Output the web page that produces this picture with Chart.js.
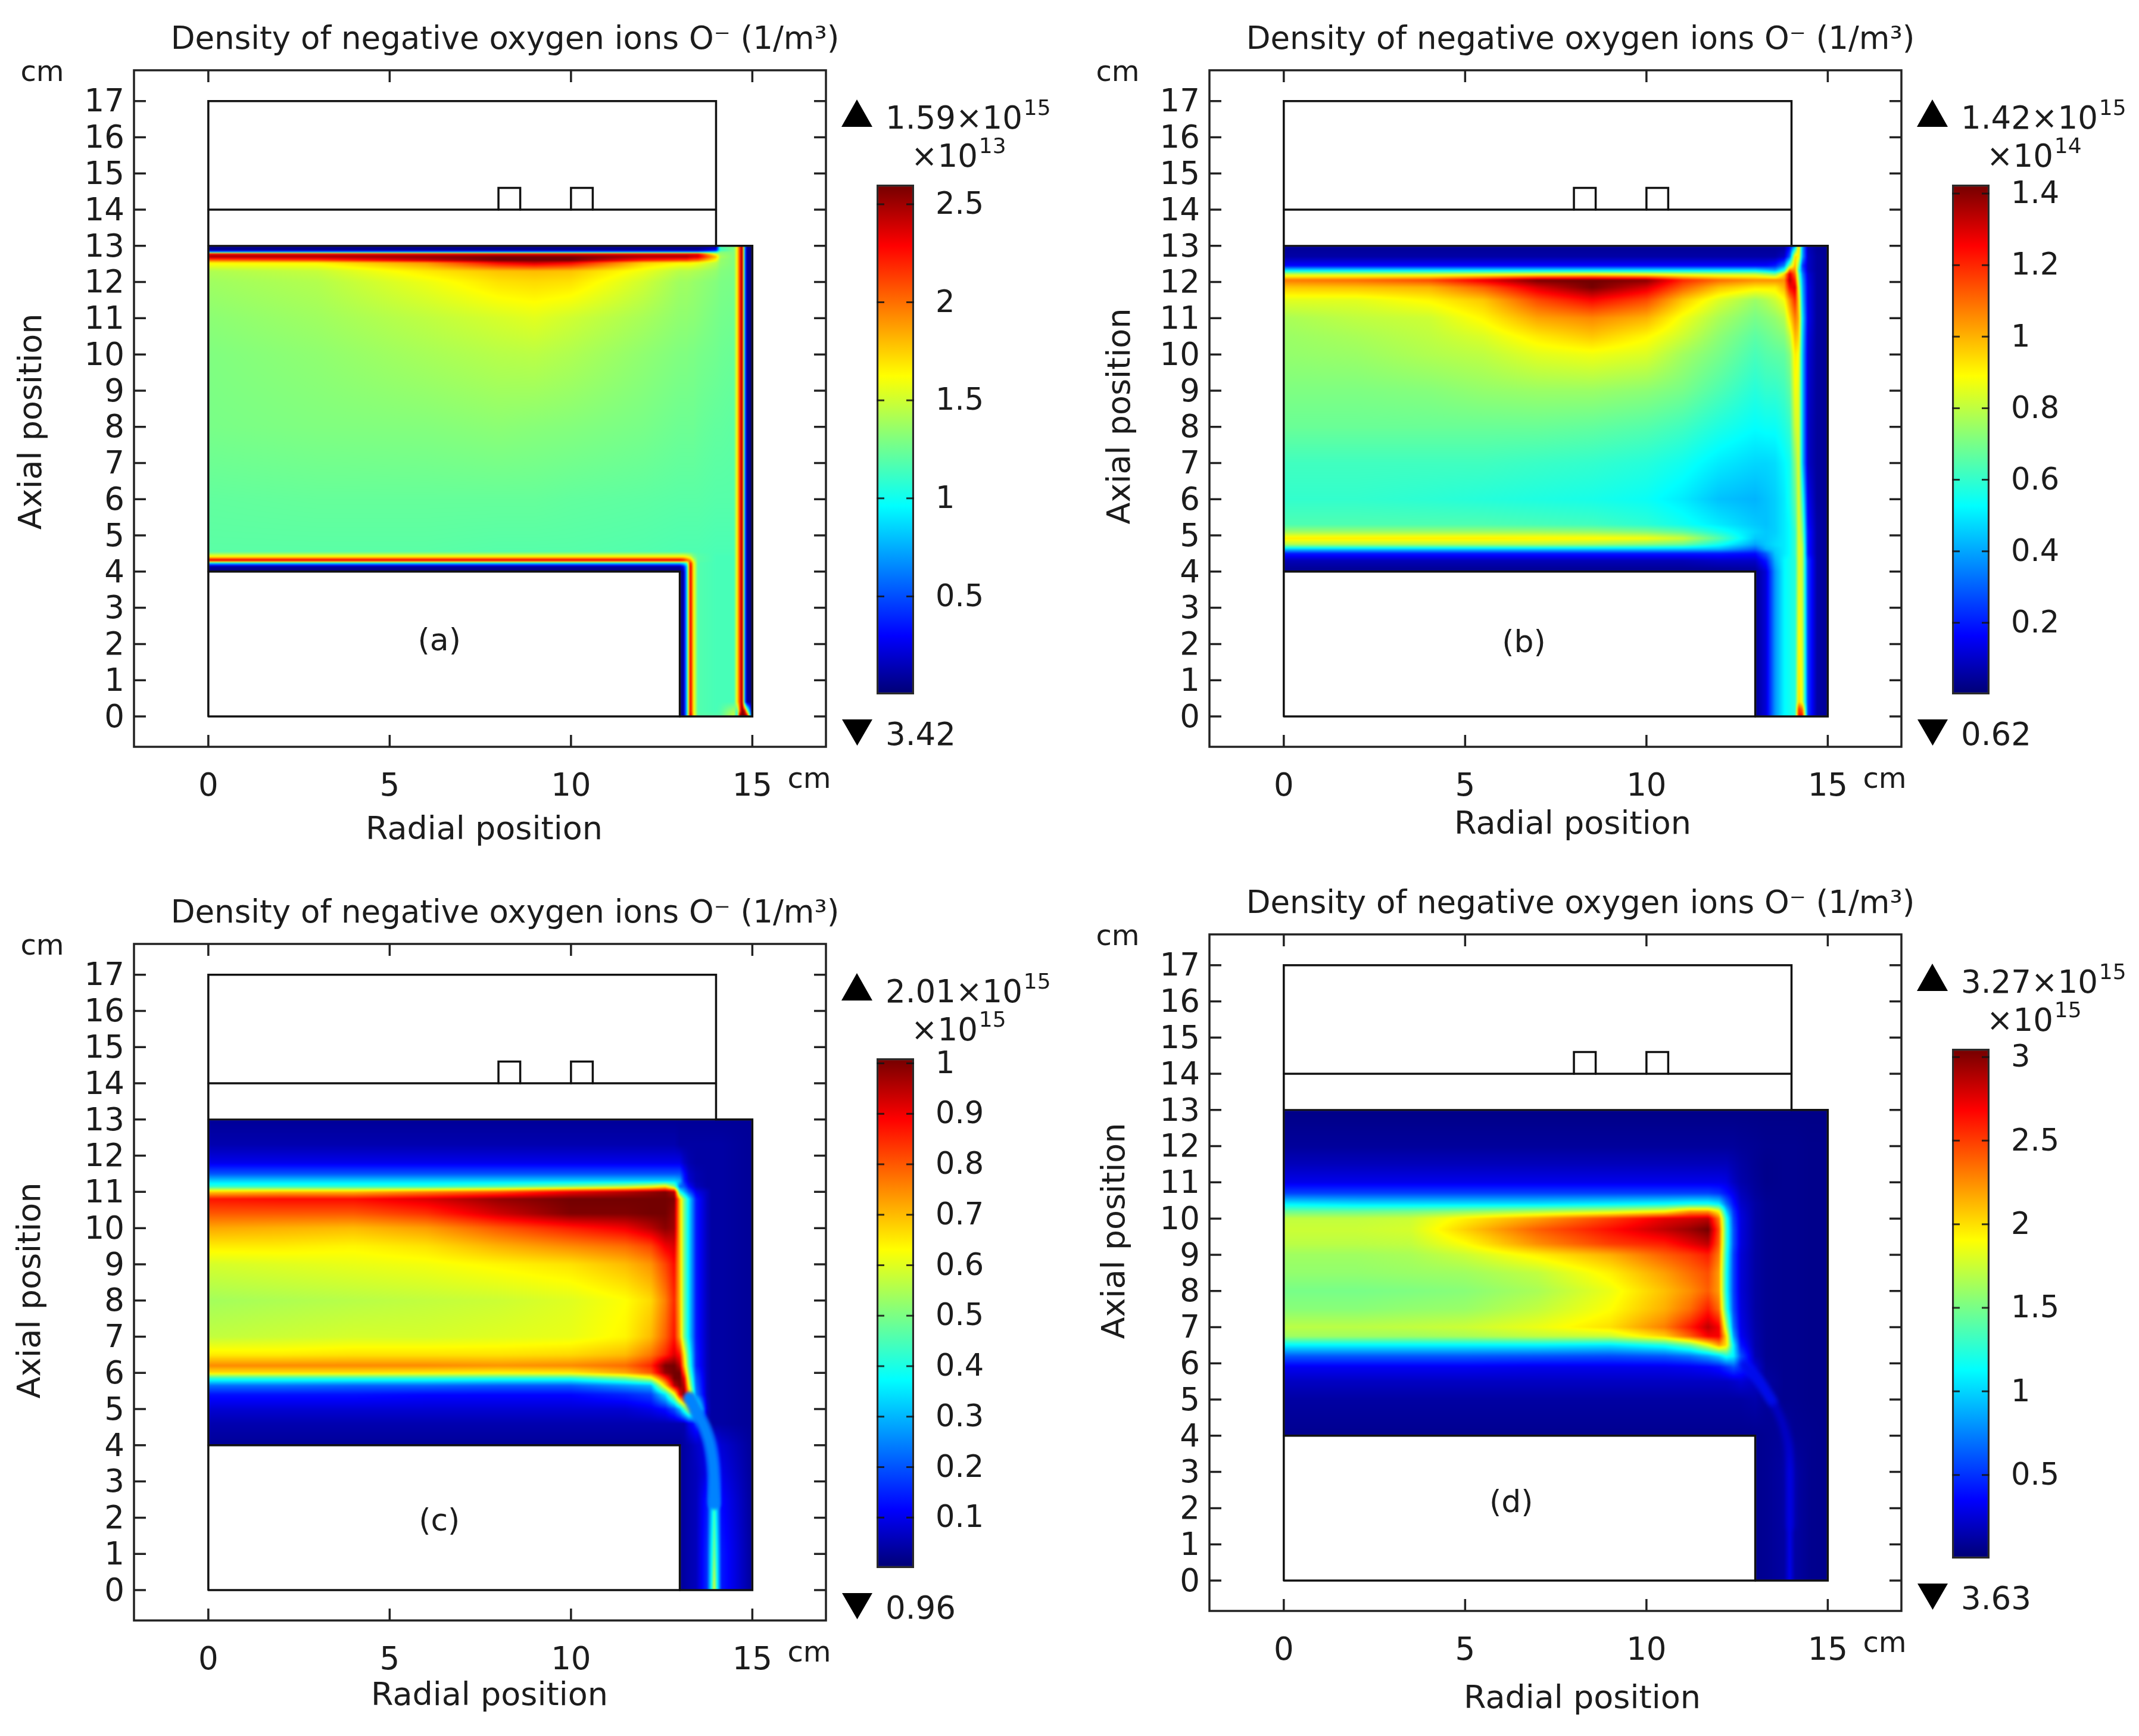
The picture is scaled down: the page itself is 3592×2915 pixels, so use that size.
<!DOCTYPE html>
<html>
<head>
<meta charset="utf-8">
<title>Density of negative oxygen ions</title>
<script src="https://cdn.jsdelivr.net/npm/chart.js@4"></script>
<style>
  html, body { margin: 0; background: #fff; }
  body { position: relative; width: 3592px; height: 2915px; overflow: hidden; }
  canvas { position: absolute; }
</style>
</head>
<body>
<script>
// ======================================
// Data (colour bar units), nodes in cm
// ======================================
const _ = null;
const titleText = 'Density of negative oxygen ions O\u207B (1/m\u00B3)';
const xTicks = [0, 5, 10, 15];
const yTicks = [0, 1, 2, 3, 4, 5, 6, 7, 8, 9, 10, 11, 12, 13, 14, 15, 16, 17];

// chamber outline
const outlineX = [0, 0, 14, 14, 15, 15, 0];
const outlineY = [0, 17, 17, 13, 13, 0, 0];
const lidX = [0, 14];
const lidY = [14, 14];
const ceilingX = [0, 14];
const ceilingY = [13, 13];
const holeX = [0, 13, 13];
const holeY = [4, 4, 0];
const coil1X = [8, 8, 8.6, 8.6];
const coil2X = [10, 10, 10.6, 10.6];
const coilY = [14, 14.6, 14.6, 14];

// panel (a)
const xA = [0, 3, 6, 8, 9, 10, 12, 13, 13.1, 13.19, 13.29, 13.38, 13.5, 14, 14.12, 14.5, 14.58, 14.65, 14.72, 14.79, 14.85, 15];
const yA = [0, .15, .4, 4, 4.14, 4.23, 4.31, 4.41, 4.55, 6, 8, 10, 11, 12, 12.3, 12.53, 12.6, 12.7, 12.78, 12.83, 12.88, 13];
const holeA = [_, _, _, _, _, _, _];
const wallA = [.03, .1, .8, 2.4, 1.65, 1.18];
const sideA = [1.65, 2.1, 2.55, .7, .08, .03];
const midA = [1.15, 1.15, 1.15];
const valuesA = [
  [...holeA, .03, .1, .8, 2.5, 1.7, 1.2, 1.2, 1.2, 1.5, .9, 2.6, 2.6, 2.6, 2.6, .03],
  [...holeA, ...wallA, 1.15, 1.18, 1.4, 1.1, 2, 2.6, 2.4, 1.5, .03],
  [...holeA, ...wallA, ...midA, ...sideA],
  [.03, .03, .03, .03, .03, .03, .03, ...wallA, ...midA, ...sideA],
  [.1, .1, .1, .1, .1, .1, .1, .1, .3, .8, 2.4, 1.65, 1.18, ...midA, ...sideA],
  [.8, .8, .8, .8, .8, .8, .8, .8, .9, 1.1, 2.3, 1.65, 1.18, ...midA, ...sideA],
  [2.4, 2.4, 2.4, 2.4, 2.4, 2.4, 2.4, 2.4, 2.3, 2.1, 1.9, 1.5, 1.2, ...midA, ...sideA],
  [1.65, 1.65, 1.65, 1.65, 1.65, 1.65, 1.65, 1.65, 1.65, 1.6, 1.5, 1.3, 1.2, ...midA, ...sideA],
  [1.2, 1.2, 1.2, 1.19, 1.19, 1.19, 1.18, 1.17, 1.17, 1.17, 1.17, 1.17, 1.17, 1.16, 1.16, 1.16, ...sideA],
  [1.22, 1.23, 1.23, 1.23, 1.23, 1.22, 1.21, 1.2, 1.2, 1.2, 1.2, 1.2, 1.2, 1.19, 1.19, 1.19, ...sideA],
  [1.28, 1.3, 1.31, 1.33, 1.32, 1.31, 1.28, 1.25, 1.25, 1.25, 1.25, 1.25, 1.24, 1.22, 1.22, 1.21, ...sideA],
  [1.3, 1.34, 1.4, 1.44, 1.45, 1.42, 1.34, 1.3, 1.3, 1.3, 1.29, 1.29, 1.28, 1.26, 1.25, 1.24, ...sideA],
  [1.33, 1.38, 1.46, 1.52, 1.55, 1.5, 1.4, 1.34, 1.34, 1.34, 1.33, 1.33, 1.32, 1.28, 1.27, 1.26, ...sideA],
  [1.38, 1.43, 1.58, 1.7, 1.72, 1.7, 1.5, 1.38, 1.38, 1.38, 1.37, 1.36, 1.35, 1.31, 1.29, 1.28, ...sideA],
  [1.42, 1.48, 1.68, 1.78, 1.8, 1.78, 1.58, 1.44, 1.44, 1.44, 1.43, 1.42, 1.41, 1.35, 1.31, 1.29, ...sideA],
  [1.65, 1.65, 1.9, 2.3, 2.4, 2.3, 1.75, 1.65, 1.65, 1.65, 1.65, 1.63, 1.6, 1.45, 1.35, 1.3, ...sideA],
  [2, 2.1, 2.4, 2.6, 2.6, 2.6, 2.2, 2.1, 2.1, 2.1, 2.05, 2.02, 2, 1.6, 1.35, 1.3, ...sideA],
  [2.5, 2.5, 2.55, 2.6, 2.6, 2.6, 2.5, 2.5, 2.5, 2.5, 2.45, 2.42, 2.4, 1.8, 1.4, 1.3, ...sideA],
  [2.3, 2.3, 2.3, 2.3, 2.3, 2.3, 2.3, 2.3, 2.3, 2.3, 2.3, 2.3, 2.3, 1.5, 1.35, 1.3, ...sideA],
  [.7, .7, .7, .7, .7, .7, .7, .7, .7, .7, .7, .7, .7, 1, 1.3, 1.3, ...sideA],
  [.08, .08, .08, .08, .08, .08, .08, .08, .08, .08, .08, .08, .08, .3, 1.1, 1.3, ...sideA],
  [.03, .03, .03, .03, .03, .03, .03, .03, .03, .03, .03, .03, .03, .03, 1.2, 1.3, ...sideA]
];

// panel (b)
const xB = [0, 2, 4, 5.5, 7, 8.5, 10, 11, 12, 13, 13.3, 13.55, 13.8, 13.95, 14.1, 14.2, 14.3, 14.45, 14.7, 15];
const yB = [0, .2, .4, 4, 4.3, 4.5, 4.62, 4.75, 4.92, 5.1, 5.3, 6, 7, 8, 9, 10, 10.5, 11, 11.5, 11.85, 12.05, 12.22, 12.32, 12.45, 12.7, 13];
const holeB = [_, _, _, _, _, _, _, _, _];
const valuesB = [
  [...holeB, .04, .12, .38, .52, .55, .58, 1.25, 1.25, .25, .06, .04],
  [...holeB, .04, .12, .38, .52, .55, .58, 1.2, 1.1, .25, .06, .04],
  [...holeB, .04, .12, .38, .52, .55, .58, .95, .85, .25, .06, .04],
  [.03, .03, .03, .03, .03, .03, .03, .03, .03, .04, .12, .38, .52, .55, .58, .85, .8, .25, .06, .04],
  [.08, .08, .08, .08, .08, .08, .08, .08, .1, .1, .2, .42, .52, .55, .58, .85, .8, .25, .06, .04],
  [.2, .2, .2, .2, .2, .2, .2, .2, .2, .18, .3, .45, .5, .53, .6, .85, .8, .2, .06, .04],
  [.45, .45, .45, .45, .45, .45, .45, .44, .42, .3, .42, .46, .5, .53, .6, .85, .8, .2, .06, .04],
  [.78, .78, .78, .78, .78, .76, .72, .68, .55, .4, .45, .48, .5, .53, .6, .85, .78, .2, .06, .04],
  [.92, .92, .92, .92, .91, .9, .88, .82, .65, .45, .45, .47, .5, .53, .6, .85, .75, .2, .06, .04],
  [.75, .75, .75, .75, .75, .74, .71, .66, .56, .47, .45, .46, .5, .53, .6, .85, .72, .2, .06, .04],
  [.64, .64, .64, .64, .63, .62, .59, .55, .5, .45, .44, .46, .5, .53, .62, .85, .7, .18, .06, .04],
  [.6, .6, .59, .58, .57, .56, .54, .5, .44, .42, .44, .46, .5, .55, .66, .85, .6, .15, .05, .04],
  [.62, .62, .62, .62, .61, .6, .58, .55, .5, .47, .47, .48, .52, .55, .72, .85, .45, .1, .05, .04],
  [.68, .68, .68, .68, .68, .67, .65, .62, .57, .53, .54, .54, .57, .6, .82, .85, .45, .1, .05, .04],
  [.71, .71, .72, .74, .75, .75, .73, .7, .64, .58, .6, .6, .62, .66, .88, .85, .45, .11, .05, .04],
  [.74, .75, .78, .8, .85, .87, .84, .76, .7, .63, .65, .66, .67, .72, .92, .88, .45, .12, .05, .04],
  [.75, .77, .8, .84, .92, .97, .9, .82, .73, .66, .68, .7, .72, .8, 1, .95, .47, .13, .05, .04],
  [.77, .8, .82, .9, 1.02, 1.06, 1, .87, .77, .7, .72, .74, .78, .93, 1.08, 1, .5, .15, .05, .04],
  [.85, .85, .9, .97, 1.15, 1.25, 1.15, .97, .84, .75, .78, .82, .88, 1.05, 1.2, .95, .45, .14, .05, .04],
  [.97, .98, 1, 1.12, 1.3, 1.42, 1.3, 1.12, .98, .92, .92, .92, 1, 1.25, 1.3, .85, .42, .14, .05, .04],
  [1.08, 1.1, 1.15, 1.28, 1.42, 1.43, 1.4, 1.2, 1.1, 1.05, 1.05, 1.05, 1.05, 1.35, 1.2, .75, .4, .13, .05, .04],
  [.8, .8, .8, .82, .85, .88, .85, .82, .8, .8, .75, .7, .95, 1.3, 1.1, .7, .35, .12, .05, .04],
  [.5, .5, .5, .5, .5, .5, .5, .5, .5, .5, .45, .4, .6, 1.1, 1.05, .6, .3, .1, .05, .04],
  [.17, .17, .17, .17, .17, .17, .17, .17, .17, .17, .17, .2, .35, .75, 1, .7, .25, .1, .05, .04],
  [.06, .06, .06, .06, .06, .06, .06, .06, .06, .06, .06, .06, .1, .3, .95, .9, .4, .1, .05, .04],
  [.04, .04, .04, .04, .04, .04, .04, .04, .04, .04, .04, .04, .04, .15, .4, 1, .4, .08, .04, .04]
];

// panel (c)
const xC = [0, 2, 4, 6, 8, 10, 11.5, 12.2, 12.6, 12.85, 13, 13.12, 13.25, 13.45, 13.75, 13.87, 13.95, 14.03, 14.15, 15];
const yC = [0, 1, 2.5, 3.2, 4, 4.6, 5, 5.4, 5.65, 5.85, 6, 6.2, 6.5, 7, 8, 9, 9.5, 10, 10.4, 10.8, 11, 11.15, 11.3, 11.5, 11.8, 12.3, 13];
const holeC = [_, _, _, _, _, _, _, _, _, _];
const tailC = [.06, .04, .04, .04, .04, .03];
const topC = [.04, .04, .04, .04, .04, .03];
const streakCX = [13.95, 13.93, 13.84, 13.68, 13.5, 13.27];
const streakCY = [2.4, 3.34, 4, 4.5, 4.85, 5.3];
const streakTipCX = [13.68, 13.5, 13.27];
const streakTipCY = [4.5, 4.85, 5.3];
const valuesC = [
  [...holeC, .03, .04, .05, .06, .16, .38, .6, .38, .14, .03],
  [...holeC, .03, .04, .05, .06, .16, .36, .5, .36, .14, .03],
  [...holeC, .03, .04, .05, .06, .14, .3, .42, .3, .12, .03],
  [...holeC, .03, .04, .05, .06, .1, .15, .2, .15, .1, .03],
  [.03, .03, .03, .03, .03, .03, .03, .03, .03, .03, .03, .04, .05, .07, .1, .1, .1, .1, .08, .03],
  [.05, .05, .05, .05, .05, .05, .05, .05, .05, .05, .05, .05, .1, .15, ...topC],
  [.08, .08, .08, .08, .08, .08, .08, .1, .13, .2, .3, .45, .6, .55, .08, .04, .04, .04, .04, .03],
  [.13, .13, .13, .12, .12, .12, .15, .18, .35, .6, .9, 1, .75, .25, ...tailC],
  [.23, .23, .22, .22, .21, .21, .27, .3, .68, .95, 1, .95, .62, .22, ...tailC],
  [.42, .42, .42, .42, .41, .41, .5, .6, .85, 1.01, 1.01, .9, .55, .2, ...tailC],
  [.66, .66, .66, .65, .64, .65, .72, .8, .98, 1.01, 1.01, .8, .5, .18, ...tailC],
  [.75, .75, .75, .75, .74, .75, .78, .85, 1, 1.01, .95, .7, .45, .15, ...tailC],
  [.65, .65, .66, .66, .66, .67, .7, .77, .85, .92, .87, .65, .42, .15, ...tailC],
  [.57, .58, .59, .59, .6, .61, .64, .7, .79, .87, .72, .5, .35, .14, ...tailC],
  [.54, .55, .56, .57, .58, .6, .63, .67, .76, .85, .7, .5, .35, .14, ...tailC],
  [.59, .6, .61, .62, .64, .66, .7, .74, .82, .88, .7, .5, .35, .14, ...tailC],
  [.65, .65, .64, .66, .71, .75, .78, .82, .9, .92, .7, .5, .35, .14, ...tailC],
  [.72, .71, .7, .73, .8, .86, .9, .95, .99, .97, .7, .5, .35, .14, ...tailC],
  [.8, .8, .8, .84, .93, 1, 1, 1.01, 1.01, .98, .7, .5, .35, .14, ...tailC],
  [.87, .88, .88, .92, .98, 1.01, 1.01, 1.01, 1.01, 1, .7, .5, .35, .14, ...tailC],
  [.68, .7, .7, .75, .8, .9, .95, .98, 1, .95, .4, .3, .2, .1, ...tailC],
  [.42, .42, .42, .42, .45, .5, .55, .6, .65, .5, .22, .2, .12, .06, ...topC],
  [.33, .33, .33, .33, .33, .33, .33, .33, .33, .33, .3, .15, .08, .05, ...topC],
  [.2, .2, .2, .2, .2, .2, .2, .2, .2, .2, .2, .13, .07, .05, ...topC],
  [.1, .1, .1, .1, .1, .1, .1, .1, .1, .1, .1, .07, .05, .04, ...topC],
  [.05, .05, .05, .05, .05, .05, .05, .05, .05, .05, .04, .04, .04, .04, ...topC],
  [.03, .03, .03, .03, .03, .03, .03, .03, .03, .03, .03, .03, .03, .03, .03, .03, .03, .03, .03, .03]
];

// panel (d)
const xD = [0, 2, 3.5, 5, 7, 9, 10.5, 11.2, 11.7, 12, 12.2, 12.4, 12.6, 13, 13.3, 13.8, 13.95, 14.1, 14.5, 15];
const yD = [0, 3, 4, 5, 5.5, 5.9, 6.2, 6.5, 6.75, 7, 7.5, 8, 8.5, 9, 9.3, 9.7, 10, 10.2, 10.4, 10.7, 11, 11.5, 12, 13];
const holeD = [_, _, _, _, _, _, _, _, _, _, _, _, _];
const tailD = [.07, .07, .07, .06, .06];
const streakDX = [13.97, 13.94, 13.8, 13.47, 13.04, 12.7];
const streakDY = [1.5, 3.4, 4.2, 4.95, 5.6, 5.95];
const streakTipDX = [13.47, 13.04, 12.7];
const streakTipDY = [4.95, 5.6, 5.95];
const valuesD = [
  [...holeD, .07, .08, .12, .3, .12, .07, .06],
  [...holeD, .07, .08, .12, .26, .12, .07, .06],
  [.07, .07, .07, .07, .07, .07, .07, .07, .07, .07, .07, .07, .07, .07, .08, .1, .1, .08, .07, .06],
  [.12, .12, .12, .12, .12, .12, .12, .12, .12, .12, .12, .12, .12, .14, .1, ...tailD],
  [.2, .2, .2, .2, .2, .2, .2, .2, .2, .2, .2, .22, .25, .2, .12, ...tailD],
  [.32, .32, .32, .32, .3, .3, .3, .32, .35, .4, .5, .6, .5, .25, .09, ...tailD],
  [.62, .62, .62, .62, .6, .58, .62, .7, .85, 1, 1.2, 1.1, .6, .16, .08, ...tailD],
  [1.1, 1.1, 1.1, 1.1, 1.1, 1.05, 1.2, 1.45, 1.85, 2.2, 2, 1.1, .42, .14, .08, ...tailD],
  [1.62, 1.62, 1.62, 1.65, 1.72, 1.75, 2.05, 2.4, 2.7, 2.7, 2, .85, .33, .14, .08, ...tailD],
  [1.7, 1.7, 1.72, 1.75, 1.85, 2, 2.3, 2.6, 2.85, 2.7, 1.7, .7, .3, .13, .08, ...tailD],
  [1.55, 1.55, 1.58, 1.6, 1.72, 1.9, 2.15, 2.35, 2.6, 2.35, 1.3, .58, .27, .12, .08, ...tailD],
  [1.5, 1.5, 1.52, 1.55, 1.65, 1.85, 2.1, 2.25, 2.4, 2.2, 1.2, .55, .25, .12, .08, ...tailD],
  [1.58, 1.58, 1.6, 1.62, 1.72, 1.95, 2.2, 2.35, 2.45, 2.2, 1.2, .55, .25, .12, .08, ...tailD],
  [1.62, 1.62, 1.65, 1.75, 1.95, 2.15, 2.4, 2.5, 2.6, 2.3, 1.25, .55, .25, .12, .08, ...tailD],
  [1.7, 1.7, 1.72, 1.9, 2.25, 2.5, 2.6, 2.75, 2.85, 2.4, 1.3, .6, .27, .12, .08, ...tailD],
  [1.75, 1.75, 1.78, 2.05, 2.4, 2.65, 2.85, 2.95, 3.05, 2.45, 1.3, .6, .27, .12, .08, ...tailD],
  [1.72, 1.72, 1.75, 1.95, 2.2, 2.5, 2.75, 2.8, 2.85, 2.3, 1.25, .55, .27, .12, .08, ...tailD],
  [1.45, 1.45, 1.48, 1.55, 1.65, 1.75, 1.9, 2.2, 2.2, 1.9, 1, .5, .25, .12, .08, ...tailD],
  [1.1, 1.05, 1.05, 1.05, 1.05, 1.1, 1.15, 1.2, 1.2, 1.1, .7, .4, .22, .12, .08, ...tailD],
  [.55, .55, .55, .55, .55, .55, .55, .55, .55, .5, .4, .3, .18, .1, .07, ...tailD],
  [.3, .3, .3, .3, .3, .3, .3, .3, .3, .3, .28, .2, .14, .09, .06, ...tailD],
  [.18, .18, .18, .18, .18, .18, .18, .18, .18, .18, .18, .15, .12, .08, .06, ...tailD],
  [.1, .1, .1, .1, .1, .1, .1, .1, .1, .1, .1, .1, .09, .08, .07, ...tailD],
  [.05, .05, .05, .05, .05, .05, .05, .05, .05, .05, .05, .05, .05, .05, .05, .05, .05, .05, .05, .05]
];

// colour bar ticks
const barTicksA = [0.5, 1, 1.5, 2, 2.5];
const barTicksB = [0.2, 0.4, 0.6, 0.8, 1, 1.2, 1.4];
const barTicksC = [0.1, 0.2, 0.3, 0.4, 0.5, 0.6, 0.7, 0.8, 0.9, 1];
const barTicksD = [0.5, 1, 1.5, 2, 2.5, 3];

// colour table (position, r, g, b)
const rainbow = [
  [0, 0, 0, 115], [.115, 0, 0, 255], [.37, 0, 255, 255], [.5, 128, 255, 128],
  [.625, 255, 255, 0], [.88, 255, 0, 0], [1, 115, 0, 0]
];

// ======================================
// Layout of the four panels
// ======================================
const FONT = '"DejaVu Sans"';
const INK = '#1c1c1c';
const panels = [
  { tag: '(a)', tagX: 6.37, tagY: 2.04, ox: 0, oy: 0, xs: xA, ys: yA, rows: valuesA, barMax: 2.6, barTicks: barTicksA,
    top: '1.59', topExp: '15', low: '3.42', factor: '13', xTitle: [813, 1395], yTitle: [55, 708], streaks: [] },
  { tag: '(b)', tagX: 6.62, tagY: 2.0, ox: 1806, oy: 0, xs: xB, ys: yB, rows: valuesB, barMax: 1.425, barTicks: barTicksB,
    top: '1.42', topExp: '15', low: '0.62', factor: '14', xTitle: [835, 1386], yTitle: [77, 699], streaks: [] },
  { tag: '(c)', tagX: 6.37, tagY: 1.86, ox: 0, oy: 1467, xs: xC, ys: yC, rows: valuesC, barMax: 1.01, barTicks: barTicksC,
    top: '2.01', topExp: '15', low: '0.96', factor: '15', xTitle: [822, 1382], yTitle: [53, 700],
    streaks: [
      { xs: streakCX, ys: streakCY, color: 'rgba(0,120,255,.9)', width: 22, blur: 2.5 },
      { xs: streakCX, ys: streakCY, color: 'rgb(0,235,240)', width: 11, blur: 1.5 },
      { xs: streakTipCX, ys: streakTipCY, color: 'rgba(190,255,60,.9)', width: 5, blur: 1 }
    ] },
  { tag: '(d)', tagX: 6.27, tagY: 2.12, ox: 1806, oy: 1451, xs: xD, ys: yD, rows: valuesD, barMax: 3.05, barTicks: barTicksD,
    top: '3.27', topExp: '15', low: '3.63', factor: '15', xTitle: [851, 1403], yTitle: [68, 616],
    streaks: [
      { xs: streakDX, ys: streakDY, color: 'rgba(0,0,225,.6)', width: 14, blur: 4 },
      { xs: streakTipDX, ys: streakTipDY, color: 'rgba(0,30,255,.95)', width: 14, blur: 4 }
    ] }
];

function colorAt(t) {
  t = Math.max(0, Math.min(1, t));
  for (let i = 1; i < rainbow.length; i++) {
    if (t <= rainbow[i][0]) {
      const a = rainbow[i - 1], b = rainbow[i], f = (t - a[0]) / (b[0] - a[0]);
      return [a[1] + (b[1] - a[1]) * f, a[2] + (b[2] - a[2]) * f, a[3] + (b[3] - a[3]) * f];
    }
  }
  return rainbow[rainbow.length - 1].slice(1);
}

function toPoints(xs, ys) {
  return xs.map((x, i) => ({ x: x, y: ys[i] }));
}

function cellIndex(nodes, v) {
  if (v < nodes[0] || v > nodes[nodes.length - 1]) return -1;
  for (let i = 0; i < nodes.length - 1; i++) {
    if (v <= nodes[i + 1]) return i;
  }
  return -1;
}

// value with superscript, drawn from the left edge
function textSup(ctx, base, sup, x, y, size) {
  ctx.textAlign = 'left';
  ctx.textBaseline = 'alphabetic';
  ctx.font = size + 'px ' + FONT;
  ctx.fillText(base, x, y);
  const w = ctx.measureText(base).width;
  ctx.font = Math.round(size * 0.68) + 'px ' + FONT;
  ctx.fillText(sup, x + w + 2, y - size * 0.44);
}

// ======================================
// Plugins
// ======================================
const heatPlugin = {
  id: 'heat',
  beforeDatasetsDraw(chart, args, opts) {
    const { ctx, chartArea: a, scales } = chart;
    const p = opts.panel;
    const left = Math.round(a.left), top = Math.round(a.top);
    const w = Math.round(a.right - a.left), h = Math.round(a.bottom - a.top);
    const off = document.createElement('canvas');
    off.width = w; off.height = h;
    const octx = off.getContext('2d');
    const img = octx.createImageData(w, h);
    const colIdx = [], colF = [];
    for (let i = 0; i < w; i++) {
      const v = scales.x.getValueForPixel(left + i + .5);
      const c = cellIndex(p.xs, v);
      colIdx.push(c);
      colF.push(c < 0 ? 0 : (v - p.xs[c]) / (p.xs[c + 1] - p.xs[c]));
    }
    for (let j = 0; j < h; j++) {
      const v = scales.y.getValueForPixel(top + j + .5);
      const r = cellIndex(p.ys, v);
      if (r < 0) continue;
      const fy = (v - p.ys[r]) / (p.ys[r + 1] - p.ys[r]);
      const lo = p.rows[r], hi = p.rows[r + 1];
      for (let i = 0; i < w; i++) {
        const c = colIdx[i];
        if (c < 0) continue;
        const q = [lo[c], lo[c + 1], hi[c], hi[c + 1]];
        if (q.some(n => n == null)) continue;
        const fx = colF[i];
        const val = (q[0] * (1 - fx) + q[1] * fx) * (1 - fy) + (q[2] * (1 - fx) + q[3] * fx) * fy;
        const rgb = colorAt(val / p.barMax);
        const k = (j * w + i) * 4;
        img.data[k] = rgb[0]; img.data[k + 1] = rgb[1]; img.data[k + 2] = rgb[2]; img.data[k + 3] = 255;
      }
    }
    octx.putImageData(img, 0, 0);
    ctx.save();
    ctx.filter = 'blur(1px)';
    ctx.drawImage(off, left, top);
    ctx.restore();
  },
  // soft edges for the thin streaks
  beforeDatasetDraw(chart, args) {
    const blur = chart.data.datasets[args.index].blur;
    chart.ctx.save();
    if (blur) chart.ctx.filter = 'blur(' + blur + 'px)';
  },
  afterDatasetDraw(chart) {
    chart.ctx.restore();
  }
};

const framePlugin = {
  id: 'frame',
  afterDatasetsDraw(chart, args, opts) {
    const { ctx, chartArea: a, scales } = chart;
    const p = opts.panel;
    ctx.save();
    ctx.strokeStyle = '#222';
    ctx.lineWidth = 3.5;
    ctx.strokeRect(a.left, a.top, a.right - a.left, a.bottom - a.top);
    // ticks point inwards on all four sides
    ctx.beginPath();
    xTicks.forEach(v => {
      const x = scales.x.getPixelForValue(v);
      ctx.moveTo(x, a.top); ctx.lineTo(x, a.top + 20);
      ctx.moveTo(x, a.bottom); ctx.lineTo(x, a.bottom - 20);
    });
    yTicks.forEach(v => {
      const y = scales.y.getPixelForValue(v);
      ctx.moveTo(a.left, y); ctx.lineTo(a.left + 20, y);
      ctx.moveTo(a.right, y); ctx.lineTo(a.right - 20, y);
    });
    ctx.stroke();

    ctx.fillStyle = INK;
    ctx.textBaseline = 'middle';
    ctx.textAlign = 'center';
    ctx.font = '54px ' + FONT;
    ctx.fillText('Radial position', p.xTitle[0], p.xTitle[1]);
    ctx.save();
    ctx.translate(p.yTitle[0], p.yTitle[1]);
    ctx.rotate(-Math.PI / 2);
    ctx.fillText('Axial position', 0, 0);
    ctx.restore();
    ctx.font = '48px ' + FONT;
    ctx.fillText('cm', 71, 124);
    ctx.fillText('cm', 1359, 1311);
    ctx.font = '52px ' + FONT;
    ctx.fillText(p.tag, scales.x.getPixelForValue(p.tagX), scales.y.getPixelForValue(p.tagY));
    ctx.restore();
  }
};

const barPlugin = {
  id: 'barMarks',
  afterDatasetsDraw(chart, args, opts) {
    const { ctx, chartArea: a, scales } = chart;
    const p = opts.panel;
    ctx.save();
    ctx.strokeStyle = 'rgba(20,20,20,.85)';
    ctx.lineWidth = 3;
    ctx.beginPath();
    p.barTicks.forEach(v => {
      const y = scales.y.getPixelForValue(v);
      ctx.moveTo(a.left, y); ctx.lineTo(a.left + 13, y);
      ctx.moveTo(a.right, y); ctx.lineTo(a.right - 13, y);
    });
    ctx.stroke();

    // max / min markers and the scale factor
    ctx.fillStyle = '#000';
    ctx.beginPath();
    ctx.moveTo(13, 95); ctx.lineTo(65, 95); ctx.lineTo(39, 49); ctx.closePath();
    ctx.moveTo(14, 1090); ctx.lineTo(65, 1090); ctx.lineTo(39.5, 1134); ctx.closePath();
    ctx.fill();
    ctx.fillStyle = INK;
    textSup(ctx, p.top + '\u00D710', p.topExp, 87, 98, 53);
    textSup(ctx, '\u00D710', p.factor, 130, 162, 53);
    ctx.font = '53px ' + FONT;
    ctx.fillText(p.low, 87, 1133);
    ctx.restore();
  }
};

// ======================================
// Build the charts
// ======================================
function addCanvas(left, top, w, h) {
  const c = document.createElement('canvas');
  c.width = w; c.height = h;
  c.style.left = left + 'px';
  c.style.top = top + 'px';
  c.style.width = w + 'px';
  c.style.height = h + 'px';
  document.body.appendChild(c);
  return c.getContext('2d');
}

function lineSet(xs, ys, color, width, tension, blur) {
  return {
    type: 'scatter', showLine: true, data: toPoints(xs, ys), borderColor: color, borderWidth: width,
    pointRadius: 0, tension: tension || 0, borderCapStyle: 'round', fill: false, blur: blur || 0
  };
}

panels.forEach(p => {
  const sets = p.streaks.map(s => lineSet(s.xs, s.ys, s.color, s.width, .4, s.blur));
  sets.push(lineSet(outlineX, outlineY, '#111', 3.5));
  sets.push(lineSet(lidX, lidY, '#111', 3.5));
  sets.push(lineSet(ceilingX, ceilingY, '#111', 3));
  sets.push(lineSet(holeX, holeY, '#111', 3.5));
  sets.push(lineSet(coil1X, coilY, '#111', 3.5));
  sets.push(lineSet(coil2X, coilY, '#111', 3.5));

  new Chart(addCanvas(p.ox, p.oy, 1696, 1440), {
    type: 'scatter',
    data: { datasets: sets },
    plugins: [heatPlugin, framePlugin],
    options: {
      responsive: false,
      animation: false,
      layout: { padding: 0 },
      plugins: {
        legend: { display: false },
        tooltip: { enabled: false },
        title: {
          display: true, text: titleText, color: INK,
          font: { family: FONT, size: 53, weight: 'normal', lineHeight: 1 },
          padding: { top: 42, bottom: 23 }
        },
        heat: { panel: p },
        frame: { panel: p }
      },
      scales: {
        x: {
          type: 'linear', min: -2.05, max: 17.03,
          grid: { display: false }, border: { display: false },
          afterBuildTicks: s => { s.ticks = xTicks.map(v => ({ value: v })); },
          afterFit: s => { s.height = 186; },
          ticks: { color: INK, padding: 28, maxRotation: 0, autoSkip: false, font: { family: FONT, size: 53 } }
        },
        y: {
          type: 'linear', min: -0.84, max: 17.85,
          grid: { display: false }, border: { display: false },
          afterBuildTicks: s => { s.ticks = yTicks.map(v => ({ value: v })); },
          afterFit: s => { s.width = 225; },
          ticks: { color: INK, padding: 8, labelOffset: 4, autoSkip: false, font: { family: FONT, size: 53 } }
        },
        // empty scale that keeps room for the colour bar, the title stays centred on the whole canvas
        gap: {
          type: 'linear', position: 'right', display: true,
          grid: { display: false }, border: { display: false },
          ticks: { display: false },
          afterFit: s => { s.width = 309; }
        }
      }
    }
  });

  // colour bar
  new Chart(addCanvas(p.ox + 1400, p.oy + 118, 386, 1150), {
    type: 'bar',
    data: {
      labels: ['O-'],
      datasets: [{
        data: [[0, p.barMax]],
        barPercentage: 1, categoryPercentage: 1,
        borderColor: '#2a2a2a', borderWidth: 3.5, borderSkipped: false,
        backgroundColor: c => {
          const a = c.chart.chartArea;
          if (!a) return '#00f';
          const g = c.chart.ctx.createLinearGradient(0, a.bottom, 0, a.top);
          rainbow.forEach(s => g.addColorStop(s[0], 'rgb(' + s[1] + ',' + s[2] + ',' + s[3] + ')'));
          return g;
        }
      }]
    },
    plugins: [barPlugin],
    options: {
      responsive: false,
      animation: false,
      layout: { padding: { left: 72, right: 51, top: 192, bottom: 102 } },
      plugins: { legend: { display: false }, tooltip: { enabled: false }, barMarks: { panel: p } },
      scales: {
        x: { display: false },
        y: {
          position: 'right', min: 0, max: p.barMax,
          grid: { display: false }, border: { display: false },
          afterBuildTicks: s => { s.ticks = p.barTicks.map(v => ({ value: v })); },
          afterFit: s => { s.width = 200; },
          ticks: {
            color: INK, padding: 28, labelOffset: 3, autoSkip: false, font: { family: FONT, size: 51 },
            callback: v => String(v)
          }
        }
      }
    }
  });
});
</script>
</body>
</html>
